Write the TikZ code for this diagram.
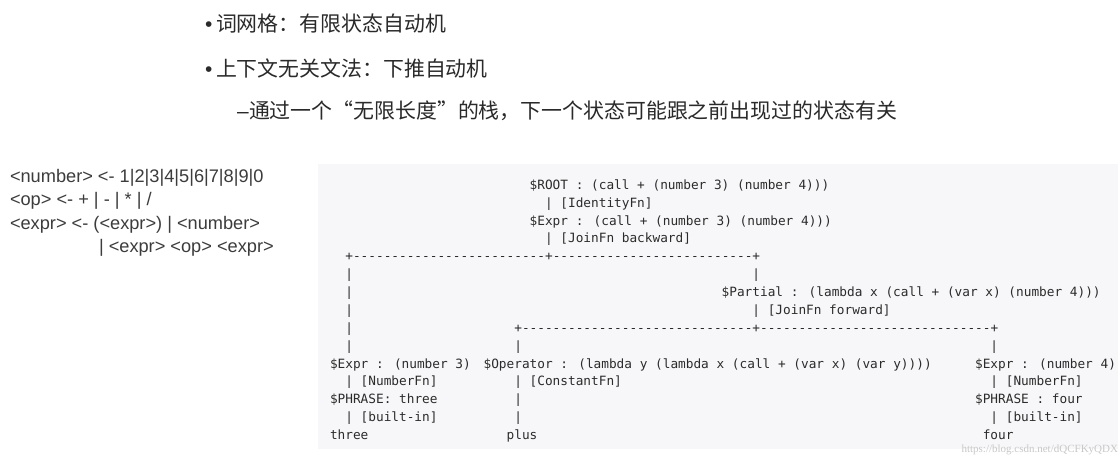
\documentclass[tikz,border=0pt]{standalone}
\usepackage{fontspec}
\newfontfamily\codefont{DejaVu Sans Mono}[Ligatures=TeXOff]
\newfontfamily\cjkfont{Noto Sans CJK SC}
\newfontfamily\gramfont{Liberation Sans}[Ligatures=TeXOff]
\newfontfamily\wmfont{Liberation Serif}
\definecolor{codebg}{HTML}{F7F7F9}
\definecolor{codetext}{HTML}{2B2B2B}
\definecolor{gramtext}{HTML}{3C3C3C}
\definecolor{titletext}{HTML}{2A2A2A}
\definecolor{wmtext}{HTML}{C8C8C8}
\newcommand\codeat[4]{\node[codetxt] (#3) at ({330+#1*7.68},{189.4+#2*17.86}) {#4};}
\begin{document}
\begin{tikzpicture}[x=1pt,y=-1pt,
  codetxt/.style={anchor=base west,inner sep=0pt,outer sep=0pt,text=codetext,font=\codefont\fontsize{12.76}{14}\selectfont},
  gramtxt/.style={anchor=base west,inner sep=0pt,outer sep=0pt,text=gramtext,font=\gramfont\fontsize{18.2}{20}\selectfont},
  titletxt/.style={anchor=base west,inner sep=0pt,outer sep=0pt,text=titletext,font=\cjkfont\fontsize{20.9}{24}\selectfont},
  marktxt/.style={anchor=base west,inner sep=0pt,outer sep=0pt,text=titletext,font=\gramfont\fontsize{20.9}{24}\selectfont},
  wmtxt/.style={anchor=base east,inner sep=0pt,outer sep=0pt,text=wmtext,font=\wmfont\fontsize{11}{13}\selectfont}]
\useasboundingbox[fill=white] (0,0) rectangle (1118,455);
% code box background
\fill[codebg] (318.3,164) rectangle (1118,449.3);

% title bullets
\node[marktxt] (b1) at (205,31.3) {•};
\node[titletxt] (t1) at (216,31.3) {词网格：有限状态自动机};
\node[marktxt] (b2) at (205,76.7) {•};
\node[titletxt] (t2) at (216,76.7) {上下文无关文法：下推自动机};
\node[marktxt] (d3) at (237,118) {–};
\node[titletxt] (t3) at (249,118) {通过一个“无限长度”的栈，下一个状态可能跟之前出现过的状态有关};

% grammar
\node[gramtxt] (g1) at (10,182.3) {<number> <- 1|2|3|4|5|6|7|8|9|0};
\node[gramtxt] (g2) at (10,205.6) {<op> <- + | - | * | /};
\node[gramtxt] (g3) at (10,229) {<expr> <- (<expr>) | <number>};
\node[gramtxt] (g4) at (99,252.4) {| <expr> <op> <expr>};

% derivation tree (ASCII)
\codeat{26}{0}{root}{\$ROOT : (call + (number 3) (number 4)))}
\codeat{28}{1}{idfn}{| [IdentityFn]}
\codeat{26}{2}{expr}{\$Expr : (call + (number 3) (number 4)))}
\codeat{28}{3}{joinb}{| [JoinFn backward]}
\codeat{2}{4}{split1}{+-------------------------+--------------------------+}
\codeat{2}{5}{l5}{|}
\codeat{55}{5}{r5}{|}
\codeat{2}{6}{l6}{|}
\codeat{51}{6}{partial}{\$Partial : (lambda x (call + (var x) (number 4)))}
\codeat{2}{7}{l7}{|}
\codeat{55}{7}{joinf}{| [JoinFn forward]}
\codeat{2}{8}{l8}{|}
\codeat{24}{8}{split2}{+------------------------------+------------------------------+}
\codeat{2}{9}{l9}{|}
\codeat{24}{9}{o9}{|}
\codeat{86}{9}{r9}{|}
\codeat{0}{10}{exprthree}{\$Expr : (number 3)}
\codeat{20}{10}{oper}{\$Operator : (lambda y (lambda x (call + (var x) (var y))))}
\codeat{84}{10}{exprfour}{\$Expr : (number 4)}
\codeat{2}{11}{numfna}{| [NumberFn]}
\codeat{24}{11}{constfn}{| [ConstantFn]}
\codeat{86}{11}{numfnb}{| [NumberFn]}
\codeat{0}{12}{phrthree}{\$PHRASE: three}
\codeat{24}{12}{o12}{|}
\codeat{84}{12}{phrfour}{\$PHRASE : four}
\codeat{2}{13}{bia}{| [built-in]}
\codeat{24}{13}{o13}{|}
\codeat{86}{13}{bib}{| [built-in]}
\codeat{0}{14}{wthree}{three}
\codeat{23}{14}{wplus}{plus}
\codeat{85}{14}{wfour}{four}

% watermark
\node[wmtxt] (wm) at (1118,452.5) {https://blog.csdn.net/dQCFKyQDX};
\end{tikzpicture}
\end{document}
